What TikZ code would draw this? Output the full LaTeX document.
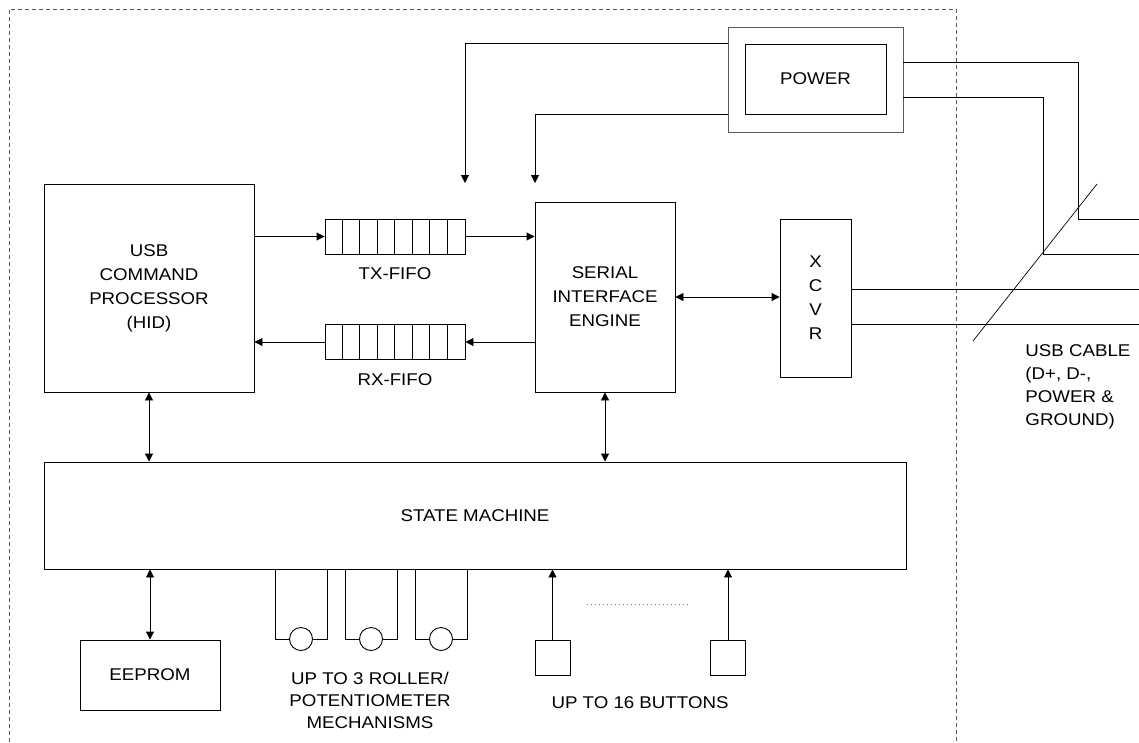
\documentclass[tikz,border=0pt]{standalone}
\usepackage{fontspec}
\setmainfont{Liberation Sans}[FakeStretch=1.1]
\usetikzlibrary{positioning,arrows.meta}

\tikzset{
  blk/.style={draw, inner sep=0pt, align=center, font=\fontsize{17}{24}\selectfont},
  lbl/.style={inner sep=0pt, align=center, font=\fontsize{17}{23}\selectfont},
  arr/.style={-{Triangle[length=8pt,width=8pt]}},
  darr/.style={{Triangle[length=8pt,width=8pt]}-{Triangle[length=8pt,width=8pt]}}
}

\begin{document}
\begin{tikzpicture}[x=1pt,y=-1pt,line width=0.9pt]
    \useasboundingbox (0,0) rectangle (1139,742);
    % chip outline
    \draw[gray!70!black, dash pattern=on 4pt off 3pt, line width=0.8pt]
        (9,742) -- (9,9) -- (956,9) -- (956,742);

    % main blocks
    \node[blk, minimum width=210pt, minimum height=208pt] (cmd) at (149,288)
        {USB\\COMMAND\\PROCESSOR\\(HID)};
    \node[blk, minimum width=140pt, minimum height=190pt] (sie) at (605,297)
        {SERIAL\\INTERFACE\\ENGINE};
    \node[blk, minimum width=71pt, minimum height=158pt] (xcvr) at (815.5,298) {X\\C\\V\\R};
    \node[blk, minimum width=862pt, minimum height=107pt] (sm) at (475,515.5) {STATE MACHINE};
    \node[blk, minimum width=140pt, minimum height=70pt] (eeprom) at (150,675) {EEPROM};
    \node[blk, draw=gray!70!black, minimum width=175pt, minimum height=105pt] (pout) at (815.5,79.5) {};
    \node[blk, minimum width=141pt, minimum height=70pt] (pwr) at (815.5,79) {POWER};

    % fifos
    \foreach \f/\yc/\t in {tx/236.5/TX-FIFO, rx/342/RX-FIFO} {
        \node[blk, minimum width=140pt, minimum height=35pt] (fifo\f) at (395,\yc) {};
        \foreach \i in {1,...,7}
            \draw ([xshift=\i*17.5pt]fifo\f.north west) -- ([xshift=\i*17.5pt]fifo\f.south west);
        \node[lbl, below=13pt of fifo\f] (lbl\f) {\t};
    }
    \draw[arr] (cmd.east |- fifotx.west) -- (fifotx.west);
    \draw[arr] (fifotx.east) -- (sie.west |- fifotx.east);
    \draw[arr] (sie.west |- fiforx.east) -- (fiforx.east);
    \draw[arr] (fiforx.west) -- (cmd.east |- fiforx.west);
    \draw[darr] (sie.east) -- (sie.east -| xcvr.west);
    \draw[darr] (cmd.south) -- (cmd.south |- sm.north);
    \draw[darr] (sie.south) -- (sie.south |- sm.north);
    \draw[darr] (eeprom.north) -- (eeprom.north |- sm.south);

    % power feeds
    \coordinate (tipA) at (465,183);
    \coordinate (tipB) at (535,183);
    \draw[arr] (pout.west |- pwr.north) -| (tipA);
    \draw[arr] (pout.west |- pwr.south) -| (tipB);

    % usb cable
    \foreach \n/\y in {1/219,2/254,3/289,4/324}
        \coordinate (c\n) at (1139,\y);
    \draw ([yshift=17.5pt]pout.east) -| ([xshift=-61pt]c1) -- (c1);
    \draw ([yshift=-17.5pt]pout.east) -| ([xshift=-96pt]c2) -- (c2);
    \draw (xcvr.east |- c3) -- (c3);
    \draw (xcvr.east |- c4) -- (c4);
    \coordinate (slA) at (973,341);
    \coordinate (slB) at (1097,184);
    \draw[line width=0.7pt] (slA) -- (slB);
    \node[lbl, anchor=north west, align=left] (cable) at (1025,344)
        {USB CABLE\\(D+, D-,\\POWER \&\\GROUND)};

    % rollers
    \foreach \i/\x in {1/301,2/371,3/441} {
        \node[circle, draw, minimum size=23pt, inner sep=0pt] (roll\i) at (\x,639) {};
        \draw (roll\i.west) -| ([xshift=-26pt]roll\i.center |- sm.south);
        \draw (roll\i.east) -| ([xshift=26pt]roll\i.center |- sm.south);
    }
    \node[lbl, font=\fontsize{17}{22}\selectfont] (rolllbl) at (370,700)
        {UP TO 3 ROLLER/\\POTENTIOMETER\\MECHANISMS};

    % buttons
    \foreach \b/\x in {A/552.5,B/728} {
        \node[blk, minimum size=35pt] (btn\b) at (\x,657.5) {};
        \draw[arr] (btn\b.north) -- (btn\b.north |- sm.south);
    }
    \draw[gray, dash pattern=on 1pt off 3pt, line width=0.7pt] (587,604) -- (691,604);
    \node[lbl] (btnlbl) at (640,703) {UP TO 16 BUTTONS};
\end{tikzpicture}
\end{document}
